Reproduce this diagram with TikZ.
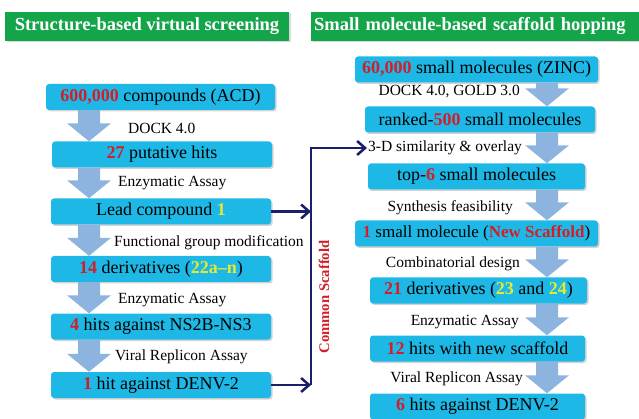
\documentclass[tikz,border=0pt]{standalone}
\usepackage{fontspec}
\setmainfont{Liberation Serif}
\usetikzlibrary{calc}
\usetikzlibrary{arrows.meta}
\usetikzlibrary{shadows}

\definecolor{boxcyan}{RGB}{30,184,230}
\definecolor{headgreen}{RGB}{20,165,75}
\definecolor{arrowblue}{RGB}{141,180,222}
\definecolor{navyline}{RGB}{27,30,105}
\definecolor{numred}{RGB}{210,30,40}
\definecolor{numyellow}{RGB}{232,232,50}

\newcommand\nred[1]{\textcolor{numred}{\textbf{#1}}}
\newcommand\nyel[1]{\textcolor{numyellow}{\textbf{#1}}}
\newcommand\fatarrow[2]{%
  \fill[arrowblue] ($(#1)+(-11,0)$) -- ($(#2)+(-11,-18)$) -- ($(#2)+(-22,-18)$)
    -- (#2) -- ($(#2)+(22,-18)$) -- ($(#2)+(11,-18)$) -- ($(#1)+(11,0)$) -- cycle;}

\tikzset{
  box/.style={fill=boxcyan, rounded corners=3pt, minimum height=26pt, minimum width=220pt,
    inner sep=0pt, font=\fontsize{18}{20}\selectfont,
    drop shadow={shadow xshift=1.5pt, shadow yshift=-1.5pt, opacity=0.35}},
  header/.style={fill=headgreen, text=white, minimum height=29pt, inner sep=0pt,
    font=\bfseries\fontsize{18.5}{20}\selectfont,
    drop shadow={shadow xshift=1.5pt, shadow yshift=-1.5pt, opacity=0.3}},
  lab/.style={font=\fontsize{15.5}{17}\selectfont, inner sep=1pt},
  conn/.style={navyline, line width=2.5pt},
  navyarrow/.style={-{Straight Barb[length=8pt,width=14pt]}}
}

\begin{document}
\begin{tikzpicture}[x=1pt,y=-1pt]
  \useasboundingbox (0,0) rectangle (639,419);
  \coordinate (ax) at (89,0);
  \coordinate (bx) at (547,0);
  \coordinate (vx) at (311,0);

  \node[header, minimum width=284pt] (hl) at (147,26.5) {Structure-based virtual screening};
  \node[header, anchor=west, text width=322pt, inner xsep=3pt, align=left] (hr) at (311,26.5) {Small molecule-based scaffold hopping};

  \node[box, minimum width=229pt] (l1) at (160.5,97) {\nred{600,000} compounds (ACD)};
  \node[box] (l2) at (162,154.5) {\nred{27} putative hits};
  \node[box] (l3) at (161,211.5) {Lead compound \nyel{1}};
  \node[box] (l4) at (161,269) {\nred{14} derivatives (\nyel{22a--n})};
  \node[box] (l5) at (161,326.5) {\nred{4} hits against NS2B-NS3};
  \node[box] (l6) at (161,385) {\nred{1} hit against DENV-2};

  \node[box, minimum width=243pt] (r1) at (476.5,69.5) {\nred{60,000} small molecules (ZINC)};
  \node[box, minimum width=230pt] (r2) at (480,119.5) {ranked-\nred{500} small molecules};
  \node[box, minimum width=217pt] (r3) at (476.5,176.5) {top-\nred{6} small molecules};
  \node[box, minimum width=243pt, font=\fontsize{17}{20}\selectfont] (r4) at (476.5,233.5) {\nred{1} small molecule (\nred{New Scaffold})};
  \node[box, minimum width=217pt] (r5) at (478.5,290.5) {\nred{21} derivatives (\nyel{23} and \nyel{24})};
  \node[box, minimum width=215pt] (r6) at (477.5,348.5) {\nred{12} hits with new scaffold};
  \node[box, minimum width=215pt] (r7) at (477.5,406.5) {\nred{6} hits against DENV-2};

  \fatarrow{l1.south -| ax}{l2.north -| ax}
  \fatarrow{l2.south -| ax}{l3.north -| ax}
  \fatarrow{l3.south -| ax}{l4.north -| ax}
  \fatarrow{l4.south -| ax}{l5.north -| ax}
  \fatarrow{l5.south -| ax}{l6.north -| ax}
  \fatarrow{r1.south -| bx}{r2.north -| bx}
  \fatarrow{r2.south -| bx}{r3.north -| bx}
  \fatarrow{r3.south -| bx}{r4.north -| bx}
  \fatarrow{r4.south -| bx}{r5.north -| bx}
  \fatarrow{r5.south -| bx}{r6.north -| bx}
  \fatarrow{r6.south -| bx}{r7.north -| bx}

  \node[lab, anchor=west] (a1) at (127,128) {DOCK 4.0};
  \node[lab, anchor=west] (a2) at (117,183) {Enzymatic Assay};
  \node[lab, anchor=west] (a3) at (113,243) {Functional group modification};
  \node[lab, anchor=west] (a4) at (117,300) {Enzymatic Assay};
  \node[lab, anchor=west] (a5) at (114,357) {Viral Replicon Assay};

  \node[lab, anchor=east] (b1) at (521,92) {DOCK 4.0, GOLD 3.0};
  \node[lab, anchor=west] (b2) at (367,148) {3-D similarity \& overlay};
  \node[lab, anchor=east] (b3) at (514,208) {Synthesis feasibility};
  \node[lab, anchor=east] (b4) at (521,264) {Combinatorial design};
  \node[lab, anchor=east] (b5) at (520,322) {Enzymatic Assay};
  \node[lab, anchor=east] (b6) at (524,379) {Viral Replicon Assay};

  \draw[conn, navyarrow] (l3.east) -- (l3.east -| vx);
  \draw[conn, navyarrow] (l6.east) -- (l6.east -| vx);
  \draw[conn, navyarrow] (l6.east -| vx) -- (vx |- b2.west) -- (b2.west);

  \node[rotate=90, text=numred, font=\bfseries\fontsize{14.7}{16}\selectfont] (cs) at (324,297) {Common Scaffold};
\end{tikzpicture}
\end{document}
